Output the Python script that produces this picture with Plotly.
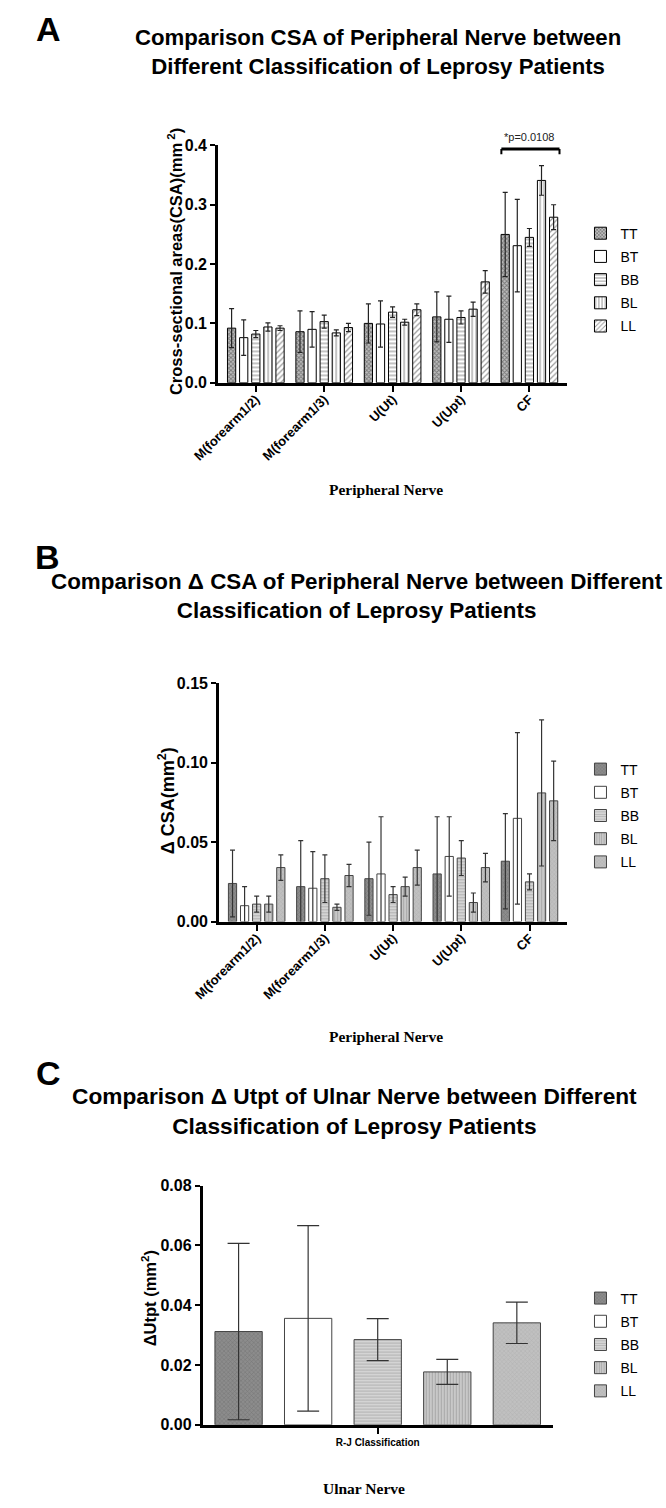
import plotly.graph_objects as go

W, H = 666, 1508

# ---------------- data ----------------
groups = ["TT", "BT", "BB", "BL", "LL"]
nerves = ["M(forearm1/2)", "M(forearm1/3)", "U(Ut)", "U(Upt)", "CF"]

# Panel A: CSA (mm^2), mean and error
csa_TT = [0.092, 0.086, 0.100, 0.111, 0.250]
csa_BT = [0.076, 0.090, 0.099, 0.107, 0.231]
csa_BB = [0.082, 0.103, 0.119, 0.110, 0.245]
csa_BL = [0.094, 0.084, 0.102, 0.124, 0.341]
csa_LL = [0.092, 0.093, 0.123, 0.170, 0.279]
csa_TT_err = [0.033, 0.035, 0.033, 0.042, 0.071]
csa_BT_err = [0.030, 0.030, 0.039, 0.039, 0.078]
csa_BB_err = [0.006, 0.011, 0.009, 0.011, 0.015]
csa_BL_err = [0.007, 0.005, 0.005, 0.012, 0.025]
csa_LL_err = [0.004, 0.007, 0.010, 0.019, 0.021]

# Panel B: delta CSA (mm^2)
dcsa_TT = [0.024, 0.022, 0.027, 0.030, 0.038]
dcsa_BT = [0.010, 0.021, 0.030, 0.041, 0.065]
dcsa_BB = [0.011, 0.027, 0.017, 0.040, 0.025]
dcsa_BL = [0.011, 0.009, 0.022, 0.012, 0.081]
dcsa_LL = [0.034, 0.029, 0.034, 0.034, 0.076]
dcsa_TT_err = [0.021, 0.029, 0.023, 0.036, 0.030]
dcsa_BT_err = [0.012, 0.023, 0.036, 0.025, 0.054]
dcsa_BB_err = [0.005, 0.015, 0.005, 0.011, 0.005]
dcsa_BL_err = [0.005, 0.002, 0.006, 0.006, 0.046]
dcsa_LL_err = [0.008, 0.007, 0.011, 0.009, 0.025]

# Panel C: delta Utpt (mm^2)
rj_category = ["R-J Classification"]
utpt_vals = [0.0312, 0.0356, 0.0285, 0.0177, 0.0341]
utpt_err = [0.0295, 0.0310, 0.0070, 0.0042, 0.0069]

csa_vals = [csa_TT, csa_BT, csa_BB, csa_BL, csa_LL]
csa_errs = [csa_TT_err, csa_BT_err, csa_BB_err, csa_BL_err, csa_LL_err]
dcsa_vals = [dcsa_TT, dcsa_BT, dcsa_BB, dcsa_BL, dcsa_LL]
dcsa_errs = [dcsa_TT_err, dcsa_BT_err, dcsa_BB_err, dcsa_BL_err, dcsa_LL_err]

# ---------------- styles ----------------
style_A = [
    dict(color="white", pattern=dict(shape="x", fgcolor="#333", bgcolor="#bdbdbd", size=3, solidity=0.5)),
    dict(color="white"),
    dict(color="white", pattern=dict(shape="-", fgcolor="#333", bgcolor="white", size=4, solidity=0.3)),
    dict(color="white", pattern=dict(shape="|", fgcolor="#333", bgcolor="white", size=4, solidity=0.3)),
    dict(color="white", pattern=dict(shape="/", fgcolor="#333", bgcolor="white", size=4, solidity=0.3)),
]
style_B = [
    dict(color="#808080", pattern=dict(shape="x", fgcolor="#5a5a5a", bgcolor="#8c8c8c", size=3, solidity=0.3)),
    dict(color="white"),
    dict(color="#d4d4d4", pattern=dict(shape="-", fgcolor="#8a8a8a", bgcolor="#d4d4d4", size=3, solidity=0.3)),
    dict(color="#c2c2c2", pattern=dict(shape="|", fgcolor="#808080", bgcolor="#c8c8c8", size=3, solidity=0.3)),
    dict(color="#bcbcbc", pattern=dict(shape="x", fgcolor="#a0a0a0", bgcolor="#c0c0c0", size=3, solidity=0.3)),
]

FONT = "Liberation Sans"
SERIF = "Liberation Serif"

fig = go.Figure()

def px_x(p):
    return p / W

def px_y(p):
    return 1 - p / H

for i, g in enumerate(groups):
    fig.add_trace(go.Bar(
        x=nerves, y=csa_vals[i], name=g, xaxis="x", yaxis="y",
        marker=dict(line=dict(color="black", width=1), **style_A[i]),
        error_y=dict(type="data", array=csa_errs[i], color="#222", thickness=1.2, width=2.5),
        legend="legend", legendgroup="A" + g,
    ))
for i, g in enumerate(groups):
    fig.add_trace(go.Bar(
        x=nerves, y=dcsa_vals[i], name=g, xaxis="x2", yaxis="y2",
        marker=dict(line=dict(color="#444", width=1), **style_B[i]),
        error_y=dict(type="data", array=dcsa_errs[i], color="#333", thickness=1.2, width=2.5),
        legend="legend2", legendgroup="B" + g,
    ))
for i, g in enumerate(groups):
    fig.add_trace(go.Bar(
        x=rj_category, y=[utpt_vals[i]], name=g, xaxis="x3", yaxis="y3",
        marker=dict(line=dict(color="#444", width=1), **style_B[i]),
        error_y=dict(type="data", array=[utpt_err[i]], color="#333", thickness=1.2, width=11),
        legend="legend3", legendgroup="C" + g,
    ))

axis_common = dict(showline=True, linecolor="black", linewidth=3, ticks="outside",
                   tickwidth=2, tickcolor="black", showgrid=False, zeroline=False, mirror=False)
ytick_font = dict(family=FONT, size=16, color="black", weight="bold")
xtick_font = dict(family=FONT, size=13, color="black", weight="bold")

fig.update_layout(
    width=W, height=H, autosize=False,
    margin=dict(l=0, r=0, t=0, b=0),
    paper_bgcolor="white", plot_bgcolor="white",
    barmode="group", bargap=0.115, bargroupgap=0.32,
    font=dict(family=FONT, color="black"),
    xaxis=dict(domain=[px_x(200), px_x(563)], anchor="y", type="category", range=[-0.55, 4.55],
               tickangle=-45, ticklen=6, tickfont=xtick_font, ticklabelstandoff=-5, **axis_common),
    yaxis=dict(domain=[px_y(379), px_y(139)], anchor="x", range=[0, 0.4], tickvals=[0, 0.1, 0.2, 0.3, 0.4],
               tickformat=".1f", ticklen=5, tickfont=ytick_font, **axis_common),
    xaxis2=dict(domain=[px_x(201), px_x(563)], anchor="y2", type="category", range=[-0.55, 4.55],
                tickangle=-45, ticklen=6, tickfont=xtick_font, ticklabelstandoff=-5, **axis_common),
    yaxis2=dict(domain=[px_y(924), px_y(683)], anchor="x2", range=[0, 0.15], tickvals=[0, 0.05, 0.10, 0.15],
                tickformat=".2f", ticklen=5, tickfont=ytick_font, **axis_common),
    xaxis3=dict(domain=[px_x(184), px_x(548)], anchor="y3", type="category", range=[-0.445, 0.445],
                ticklen=6, tickfont=dict(family=FONT, size=10, color="black", weight="bold"),
                **axis_common),
    yaxis3=dict(domain=[px_y(1433), px_y(1191)], anchor="x3", range=[0, 0.08],
                tickvals=[0, 0.02, 0.04, 0.06, 0.08], tickformat=".2f", ticklen=5, tickfont=ytick_font,
                **axis_common),
)

leg_common = dict(xanchor="left", yanchor="top", bgcolor="rgba(0,0,0,0)",
                  font=dict(family=FONT, size=14, color="black"), tracegroupgap=2,
                  itemclick=False, itemdoubleclick=False)
fig.update_layout(
    legend=dict(x=px_x(577), y=px_y(212), **leg_common),
    legend2=dict(x=px_x(577), y=px_y(754), **leg_common),
    legend3=dict(x=px_x(577), y=px_y(1289), **leg_common),
)

# significance bracket in panel A (category index coordinates)
fig.add_shape(type="line", xref="x", yref="y", x0=4 - 0.41, x1=4 + 0.44, y0=0.394, y1=0.394,
              line=dict(color="black", width=3))
fig.add_shape(type="line", xref="x", yref="y", x0=4 - 0.41, x1=4 - 0.41, y0=0.394, y1=0.385,
              line=dict(color="black", width=2))
fig.add_shape(type="line", xref="x", yref="y", x0=4 + 0.44, x1=4 + 0.44, y0=0.394, y1=0.385,
              line=dict(color="black", width=2))
fig.add_annotation(xref="x", yref="y", x=4, y=0.394, yanchor="bottom", yshift=4, showarrow=False,
                   text="*p=0.0108", font=dict(family=FONT, size=11, color="#222"))

def ann(text, x, y, size, bold=True, family=FONT, angle=0, xanchor="center", yanchor="middle"):
    fig.add_annotation(xref="paper", yref="paper", x=px_x(x), y=px_y(y), text=text, showarrow=False,
                       textangle=angle, xanchor=xanchor, yanchor=yanchor, align="center",
                       font=dict(family=family, size=size, color="black", weight="bold" if bold else "normal"))

# panel letters
ann("A", 23, 21, 34)
ann("B", 22, 555, 34)
ann("C", 23, 1077, 34)

# titles
ann("Comparison CSA of Peripheral Nerve between<br>Different Classification of Leprosy Patients", 366, 44, 22.2)
ann("Comparison Δ CSA of Peripheral Nerve between Different<br>Classification of Leprosy Patients", 344, 595, 22.4)
ann("Comparison Δ Utpt of Ulnar Nerve between Different<br>Classification of Leprosy Patients", 342, 1116, 22.7)

# y-axis titles
ann("Cross-sectional areas(CSA)(mm<sup> 2</sup>)", 155, 256, 16.5, angle=-90)
ann("Δ CSA(mm<sup>2</sup>)", 147, 802, 18, angle=-90)
ann("ΔUtpt (mm<sup>2</sup>)", 128, 1305, 16.5, angle=-90)

# x-axis titles
ann("Peripheral Nerve", 375, 487, 15.5, family=SERIF)
ann("Peripheral Nerve", 375, 1040, 15.5, family=SERIF)
ann("Ulnar Nerve", 352, 1497, 15.5, family=SERIF)

fig.write_html("out.html", config={"displayModeBar": False},
               post_script="document.body.style.margin='0';")
